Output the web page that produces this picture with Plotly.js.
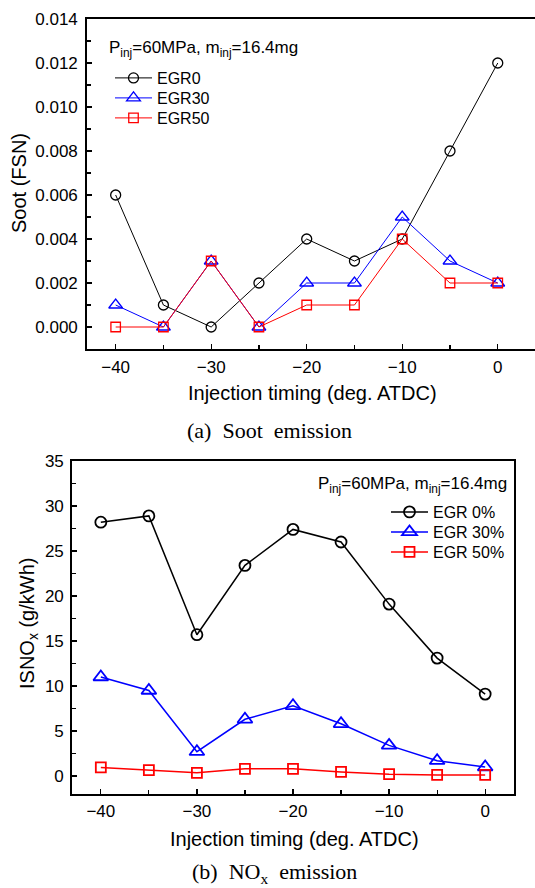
<!DOCTYPE html>
<html>
<head>
<meta charset="utf-8">
<script src="https://cdn.plot.ly/plotly-3.0.1.min.js"></script>
<style>html,body{margin:0;padding:0;background:#fff;}#chart{width:535px;height:888px;}</style>
</head>
<body>
<div id="chart"></div>
<script>
// Injection timing (deg. ATDC)
const timing = [-40, -35, -30, -25, -20, -15, -10, -5, 0];

// (a) Soot emission (FSN)
const sootEGR0  = [0.006, 0.001, 0.000, 0.002, 0.004, 0.003, 0.004, 0.008, 0.012];
const sootEGR30 = [0.001, 0.000, 0.003, 0.000, 0.002, 0.002, 0.005, 0.003, 0.002];
const sootEGR50 = [0.000, 0.000, 0.003, 0.000, 0.001, 0.001, 0.004, 0.002, 0.002];

// (b) ISNOx (g/kWh)
const noxEGR0  = [28.2, 28.9, 15.7, 23.4, 27.4, 26.0, 19.1, 13.1, 9.1];
const noxEGR30 = [11.0, 9.5, 2.7, 6.3, 7.8, 5.8, 3.4, 1.7, 1.0];
const noxEGR50 = [0.95, 0.65, 0.35, 0.8, 0.8, 0.45, 0.2, 0.12, 0.12];

const namesTop = ['EGR0', 'EGR30', 'EGR50'];
const namesBottom = ['EGR 0%', 'EGR 30%', 'EGR 50%'];
const xTicks = [-40, -30, -20, -10, 0];
const sootTicks = [0, 0.002, 0.004, 0.006, 0.008, 0.010, 0.012, 0.014];
const noxTicks = [0, 5, 10, 15, 20, 25, 30, 35];

const W = 535, H = 888;
const px = v => v / W;
const py = v => 1 - v / H;

const colors = ['#000000', '#0000ff', '#ff0000'];
const symbols = ['circle-open', 'triangle-up-open', 'square-open'];

function mk(x, y, i, name, xa, ya, leg, lw, ms) {
  return {
    x: x, y: y, name: name, type: 'scatter', mode: 'lines+markers',
    xaxis: xa, yaxis: ya, legend: leg,
    line: {color: colors[i], width: lw},
    marker: {symbol: symbols[i], color: colors[i], size: ms[i], line: {color: colors[i], width: lw + 0.3}}
  };
}

const msTop = [10, 12, 9.5];
const msBot = [11, 13, 10];

const traces = [
  mk(timing, sootEGR0, 0, namesTop[0], 'x', 'y', 'legend', 1, msTop),
  mk(timing, sootEGR30, 1, namesTop[1], 'x', 'y', 'legend2', 1, msTop),
  mk(timing, sootEGR50, 2, namesTop[2], 'x', 'y', 'legend3', 1, msTop),
  mk(timing, noxEGR0, 0, namesBottom[0], 'x2', 'y2', 'legend4', 1.5, msBot),
  mk(timing, noxEGR30, 1, namesBottom[1], 'x2', 'y2', 'legend5', 1.5, msBot),
  mk(timing, noxEGR50, 2, namesBottom[2], 'x2', 'y2', 'legend6', 1.5, msBot)
];

const tickFont = {family: 'Liberation Sans, Arial, sans-serif', size: 17, color: '#000'};
const axBase = {
  showgrid: false, zeroline: false, showline: true, linecolor: '#000', linewidth: 1.8,
  ticks: 'inside', ticklen: 5, tickwidth: 1.3, tickcolor: '#000',
  tickfont: tickFont, fixedrange: true
};

function leg(xPix, yPix) {
  return {
    x: px(xPix), y: py(yPix), xanchor: 'left', yanchor: 'middle', bgcolor: 'rgba(0,0,0,0)',
    font: {family: 'Liberation Sans, Arial, sans-serif', size: 16, color: '#000'},
    itemwidth: 37, borderwidth: 0
  };
}

const layout = {
  width: W, height: H,
  margin: {l: 0, r: 0, t: 0, b: 0},
  paper_bgcolor: '#fff', plot_bgcolor: '#fff',
  font: {family: 'Liberation Sans, Arial, sans-serif', color: '#000'},
  showlegend: true,
  xaxis: Object.assign({}, axBase, {
    domain: [px(87), 1], anchor: 'y', range: [-43, 3.9], tickvals: xTicks, mirror: true,
    minor: {tickvals: [-35, -25, -15, -5], ticks: 'inside', ticklen: 4, tickwidth: 1.2, tickcolor: '#000'},
    ticklabelstandoff: 2
  }),
  yaxis: Object.assign({}, axBase, {
    domain: [py(349), py(19)], anchor: 'x', range: [-0.001, 0.014], tickvals: sootTicks,
    tickformat: '.3f', mirror: false,
    minor: {dtick: 0.001, ticks: 'inside', ticklen: 4, tickwidth: 1.2, tickcolor: '#000'},
    ticklabelstandoff: 4
  }),
  xaxis2: Object.assign({}, axBase, {
    domain: [px(72), px(514)], anchor: 'y2', range: [-43, 3], tickvals: xTicks, mirror: true,
    minor: {tickvals: [-35, -25, -15, -5], ticks: 'inside', ticklen: 4, tickwidth: 1.2, tickcolor: '#000'},
    ticklabelstandoff: 1
  }),
  yaxis2: Object.assign({}, axBase, {
    domain: [py(794), py(461)], anchor: 'x2', range: [-2, 35], tickvals: noxTicks, mirror: true,
    minor: {dtick: 2.5, ticks: 'inside', ticklen: 4, tickwidth: 1.2, tickcolor: '#000'},
    ticklabelstandoff: 3
  }),
  legend: leg(110, 78),
  legend2: leg(110, 98),
  legend3: leg(110, 118),
  legend4: leg(386, 512),
  legend5: leg(386, 532),
  legend6: leg(386, 552),
  annotations: [
    {text: 'P<sub>inj</sub>=60MPa, m<sub>inj</sub>=16.4mg', xref: 'paper', yref: 'paper',
     x: px(107), y: py(49), xanchor: 'left', yanchor: 'middle', showarrow: false,
     font: {size: 17, color: '#000'}},
    {text: 'P<sub>inj</sub>=60MPa, m<sub>inj</sub>=16.4mg', xref: 'paper', yref: 'paper',
     x: px(509), y: py(485), xanchor: 'right', yanchor: 'middle', showarrow: false,
     font: {size: 17, color: '#000'}},
    {text: 'Soot (FSN)', xref: 'paper', yref: 'paper', x: px(19), y: py(183),
     xanchor: 'center', yanchor: 'middle', textangle: -90, showarrow: false,
     font: {size: 20, color: '#000'}},
    {text: 'Injection timing (deg. ATDC)', xref: 'paper', yref: 'paper', x: px(312), y: py(393),
     xanchor: 'center', yanchor: 'middle', showarrow: false, font: {size: 20, color: '#000'}},
    {text: 'ISNO<sub>x</sub> (g/kWh)', xref: 'paper', yref: 'paper', x: px(28), y: py(624),
     xanchor: 'center', yanchor: 'middle', textangle: -90, showarrow: false,
     font: {size: 20, color: '#000'}},
    {text: 'Injection timing (deg. ATDC)', xref: 'paper', yref: 'paper', x: px(294), y: py(839),
     xanchor: 'center', yanchor: 'middle', showarrow: false, font: {size: 20, color: '#000'}},
    {text: '(a)\u00a0 Soot\u00a0 emission', xref: 'paper', yref: 'paper', x: px(270), y: py(430),
     xanchor: 'center', yanchor: 'middle', showarrow: false,
     font: {family: 'Liberation Serif, Times New Roman, serif', size: 22, color: '#000'}},
    {text: '(b)\u00a0 NO<sub>x</sub>\u00a0 emission', xref: 'paper', yref: 'paper', x: px(275), y: py(873),
     xanchor: 'center', yanchor: 'middle', showarrow: false,
     font: {family: 'Liberation Serif, Times New Roman, serif', size: 22, color: '#000'}}
  ]
};

Plotly.newPlot('chart', traces, layout, {displayModeBar: false, staticPlot: true});
</script>
</body>
</html>
